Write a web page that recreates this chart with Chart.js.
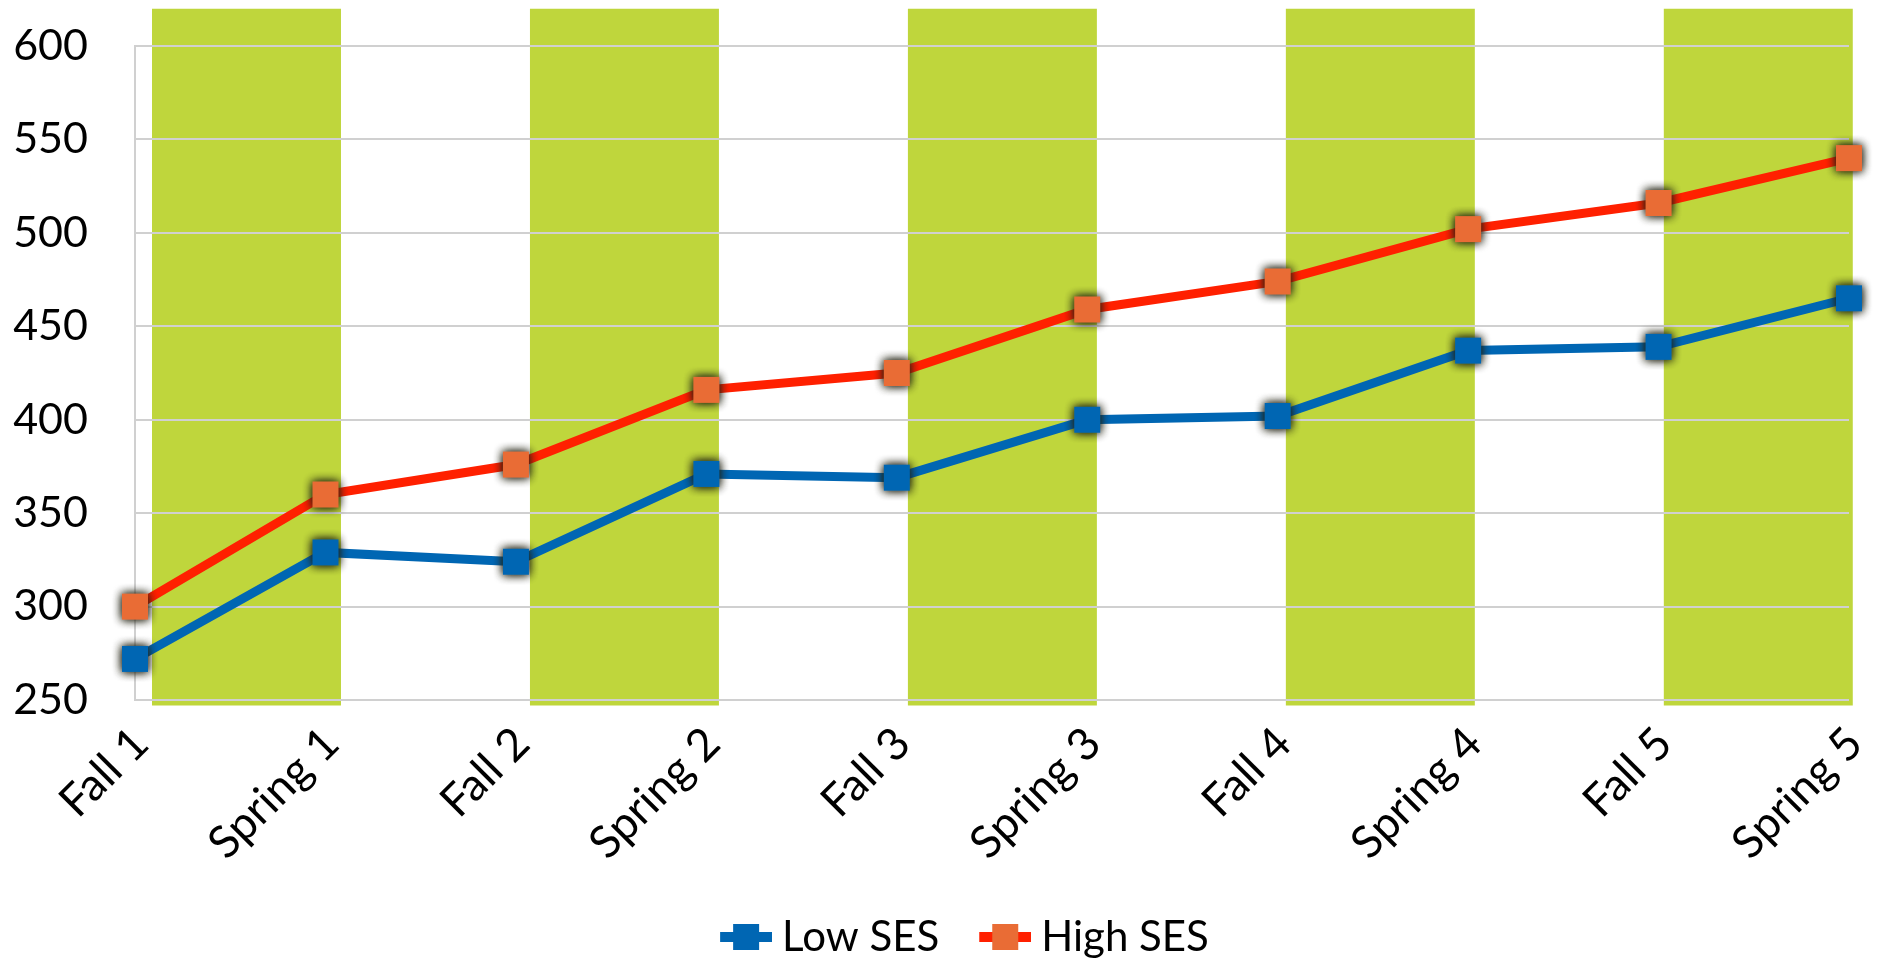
<!DOCTYPE html>
<html>
<head>
<meta charset="utf-8">
<title>Low SES vs High SES</title>
<script src="https://cdn.jsdelivr.net/npm/chart.js@4.4.1/dist/chart.umd.min.js"></script>
<style>
  html, body { margin: 0; padding: 0; background: #fff; }
</style>
</head>
<body>
<canvas id="sesChart" width="1878" height="968"></canvas>
<script>
const terms = ['Fall 1', 'Spring 1', 'Fall 2', 'Spring 2', 'Fall 3', 'Spring 3', 'Fall 4', 'Spring 4', 'Fall 5', 'Spring 5'];
const lowSES = [272, 329, 324, 371, 369, 400, 402, 437, 439, 465];
const highSES = [300, 360, 376, 416, 425, 459, 474, 502, 516, 540];
const yTicks = [250, 300, 350, 400, 450, 500, 550, 600];

// green background columns (secondary axis in the original, 9 slots, every other one filled)
const bandSlots = [0, 2, 4, 6, 8];
const bandRange = [247, 620];

const BLUE = '#0066b3';
const RED = '#ff2000';
const ORANGE = '#e96c35';
const GREEN = '#bfd63c';
const GRID = '#d0d0d0';
const FONT = 'Lato';

// square marker with a soft dark glow, used as pointStyle image
function makeMarker(fill) {
    const size = 26, pad = 14;
    const c = document.createElement('canvas');
    c.width = c.height = size + pad * 2;
    const ctx = c.getContext('2d');
    ctx.shadowColor = 'rgba(35, 35, 20, 0.9)';
    ctx.shadowBlur = 10;
    ctx.fillStyle = fill;
    // twice, so the glow comes out as dark as in the original
    ctx.fillRect(pad, pad, size, size);
    ctx.fillRect(pad, pad, size, size);
    return c;
}

// legend icon: line with square in the middle (left side left transparent for spacing)
function makeLegendIcon(lineColor, fill) {
    const lead = 41;
    const c = document.createElement('canvas');
    c.width = lead + 52;
    c.height = 26;
    const ctx = c.getContext('2d');
    ctx.fillStyle = lineColor;
    ctx.fillRect(lead, 8, 52, 10);
    ctx.fillStyle = fill;
    ctx.fillRect(lead + 13, 0, 26, 26);
    return c;
}

const legendIcons = [makeLegendIcon(BLUE, BLUE), makeLegendIcon(RED, ORANGE)];

// redraw the y grid on top of the green columns, but under the lines
const gridOverBands = {
    id: 'gridOverBands',
    afterDatasetDraw(chart, args) {
        if (args.meta.type === 'bar') {
            chart.scales.y.drawGrid(chart.chartArea);
        }
    }
};

// legend in the original sits a little right of the page centre
const legendShift = {
    id: 'legendShift',
    afterLayout(chart) {
        chart.legend.left += 25;
        chart.legend.right += 25;
    }
};

new Chart(document.getElementById('sesChart'), {
    type: 'line',
    data: {
        labels: terms,
        datasets: [
            {
                label: 'Low SES',
                data: lowSES,
                borderColor: BLUE,
                backgroundColor: BLUE,
                borderWidth: 9,
                tension: 0,
                pointStyle: makeMarker(BLUE),
                pointRadius: 13,
                clip: false,
                order: 0
            },
            {
                label: 'High SES',
                data: highSES,
                borderColor: RED,
                backgroundColor: ORANGE,
                borderWidth: 9,
                tension: 0,
                pointStyle: makeMarker(ORANGE),
                pointRadius: 13,
                clip: false,
                order: 1
            },
            {
                type: 'bar',
                label: 'band',
                data: bandSlots.map(s => ({ x: s, y: bandRange })),
                xAxisID: 'x2',
                backgroundColor: GREEN,
                borderWidth: 0,
                grouped: false,
                categoryPercentage: 1,
                barPercentage: 0.5,
                clip: false,
                order: 2
            }
        ]
    },
    options: {
        responsive: false,
        animation: false,
        events: [],
        layout: { padding: { left: 0, right: 29, top: 46, bottom: 0 } },
        scales: {
            x: {
                offset: false,
                grid: { display: false, drawTicks: false },
                border: { color: GRID, width: 2 },
                ticks: {
                    autoSkip: false,
                    minRotation: 45,
                    maxRotation: 45,
                    padding: 17,
                    labelOffset: 6,
                    color: '#000',
                    font: { family: FONT, size: 45 }
                },
                afterFit: axis => {
                    axis.height = 206;
                    axis.paddingLeft = 0;
                    axis.paddingRight = 0;
                }
            },
            x2: {
                type: 'linear',
                display: false,
                min: -0.59,
                max: 8.48,
                afterBuildTicks: axis => { axis.ticks = []; }
            },
            y: {
                min: yTicks[0],
                max: yTicks[yTicks.length - 1],
                ticks: {
                    stepSize: yTicks[1] - yTicks[0],
                    padding: 47,
                    color: '#000',
                    font: { family: FONT, size: 43 }
                },
                grid: { color: GRID, lineWidth: 2, drawTicks: false },
                border: { color: GRID, width: 2 },
                afterFit: axis => {
                    axis.width = 135;
                    axis.paddingTop = 0;
                    axis.paddingBottom = 0;
                }
            }
        },
        plugins: {
            title: { display: false },
            tooltip: { enabled: false },
            legend: {
                position: 'bottom',
                labels: {
                    usePointStyle: true,
                    pointStyleWidth: 71,
                    padding: 10,
                    color: '#000',
                    font: { family: FONT, size: 42 },
                    filter: item => item.datasetIndex < 2,
                    generateLabels: chart => {
                        const items = Chart.defaults.plugins.legend.labels.generateLabels(chart);
                        items.forEach(item => {
                            if (item.datasetIndex < 2) item.pointStyle = legendIcons[item.datasetIndex];
                        });
                        return items;
                    }
                }
            }
        }
    },
    plugins: [gridOverBands, legendShift]
});
</script>
</body>
</html>
